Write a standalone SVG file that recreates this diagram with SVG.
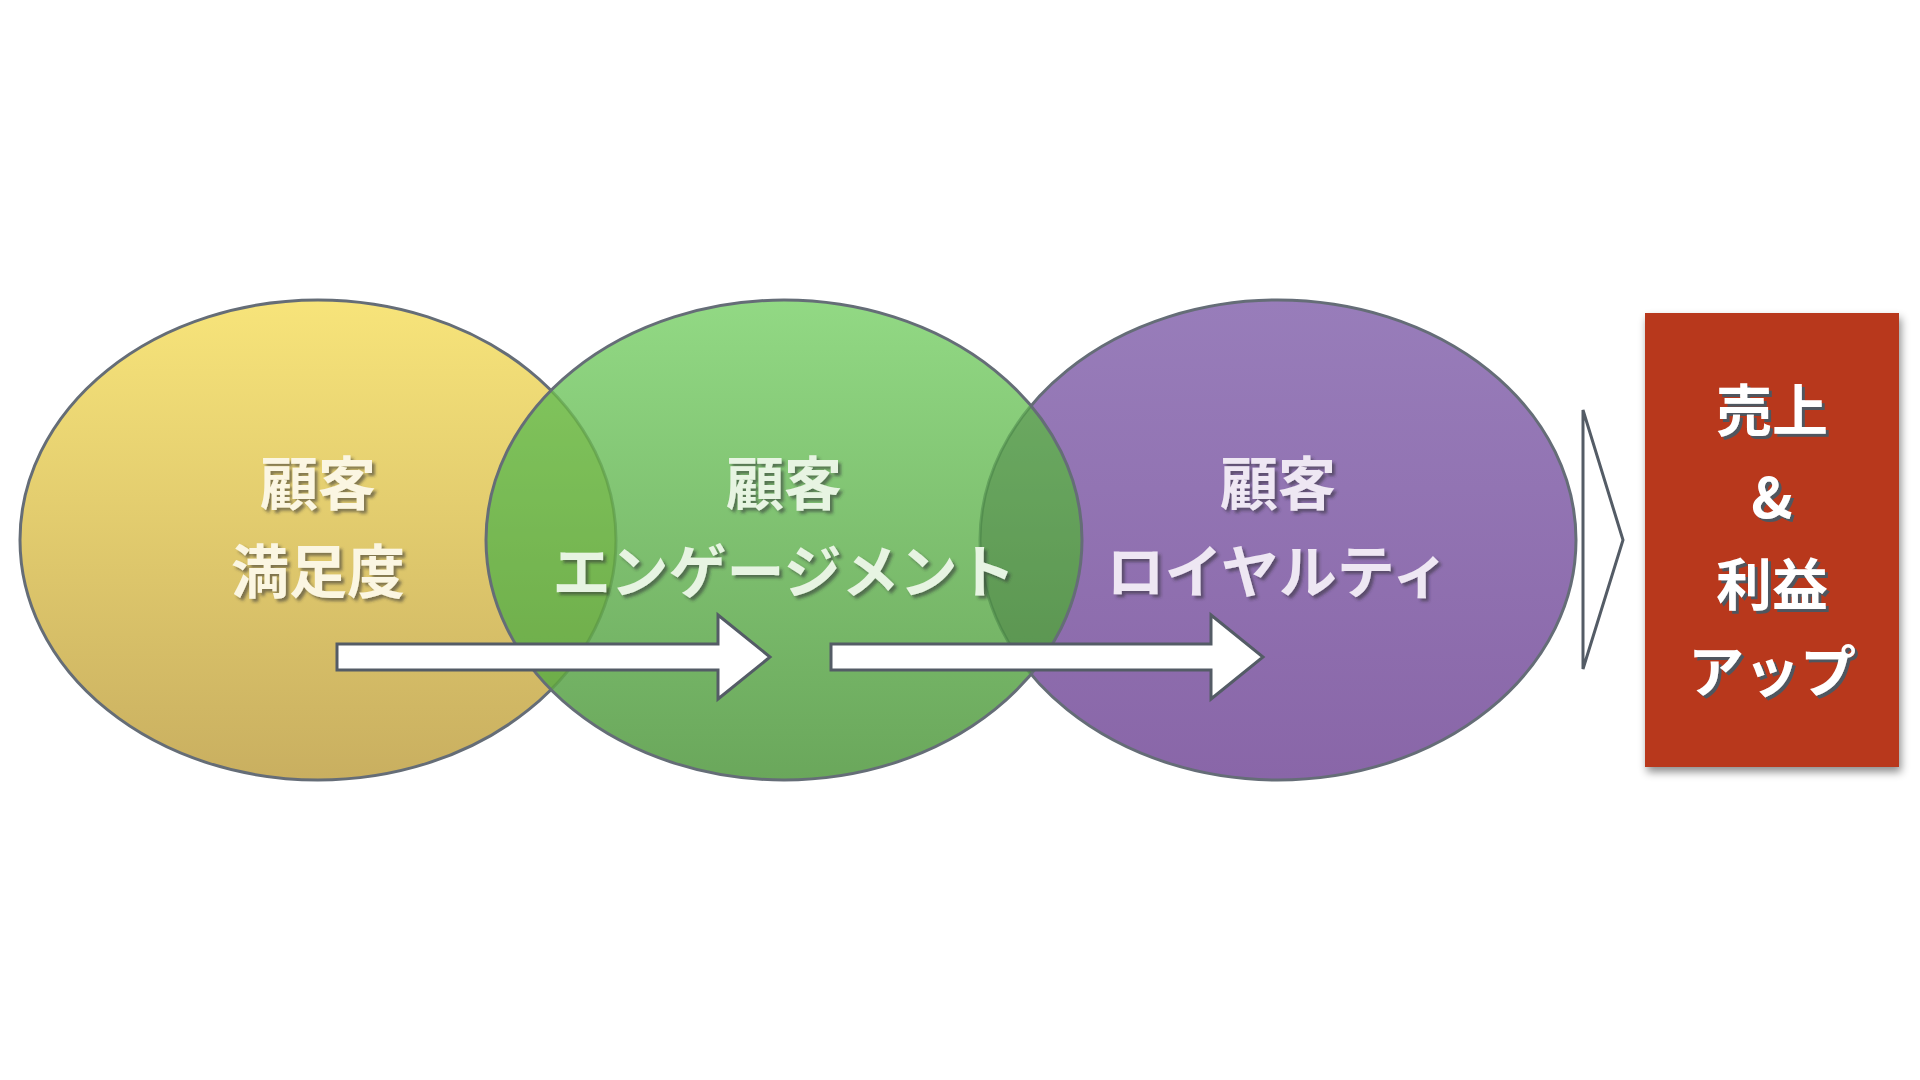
<svg xmlns="http://www.w3.org/2000/svg" width="1920" height="1080" viewBox="0 0 1920 1080">
  <style>
    .edge { fill: none; stroke: #656d77; stroke-width: 3; }
    .lbl { font-family: "Noto Sans CJK JP", "Noto Sans", sans-serif; font-weight: 700; font-size: 58px; text-anchor: middle; }
    .big { font-family: "Noto Sans CJK JP", "Noto Sans", sans-serif; font-weight: 700; font-size: 56px; text-anchor: middle; fill: #ffffff; }
    .arrow { fill: #ffffff; stroke: #545c66; stroke-width: 3; stroke-linejoin: miter; }
  </style>
  <defs>
    <linearGradient id="gY" x1="0" y1="0" x2="0" y2="1">
      <stop offset="0" stop-color="#f7e47a"/>
      <stop offset="1" stop-color="#c9af60"/>
    </linearGradient>
    <linearGradient id="gG" x1="0" y1="0" x2="0" y2="1">
      <stop offset="0" stop-color="#92d984"/>
      <stop offset="1" stop-color="#6aa75b"/>
    </linearGradient>
    <linearGradient id="gP" x1="0" y1="0" x2="0" y2="1">
      <stop offset="0" stop-color="#987dba"/>
      <stop offset="1" stop-color="#8966a8"/>
    </linearGradient>
    <clipPath id="clipG">
      <ellipse cx="784" cy="540" rx="298" ry="240"/>
    </clipPath>
    <filter id="softShadow" x="-10%" y="-20%" width="130%" height="150%">
      <feDropShadow dx="3" dy="3" stdDeviation="1.6" flood-color="#2f3338" flood-opacity="0.55"/>
    </filter>
    <filter id="hardShadow" x="-10%" y="-20%" width="130%" height="150%">
      <feDropShadow dx="3" dy="3" stdDeviation="0.4" flood-color="#50565e" flood-opacity="1"/>
    </filter>
    <filter id="boxShadow" x="-10%" y="-10%" width="125%" height="125%">
      <feDropShadow dx="2" dy="5" stdDeviation="4" flood-color="#000000" flood-opacity="0.45"/>
    </filter>
  </defs>

  <g id="node-satisfaction">
    <ellipse cx="318" cy="540" rx="298" ry="240" fill="url(#gY)"/>
    <ellipse class="edge" cx="318" cy="540" rx="298" ry="240"/>
  </g>
  <g id="node-loyalty">
    <ellipse cx="1278" cy="540" rx="298" ry="240" fill="url(#gP)"/>
    <ellipse class="edge" cx="1278" cy="540" rx="298" ry="240"/>
  </g>
  <g id="node-engagement">
    <ellipse cx="784" cy="540" rx="298" ry="240" fill="url(#gG)"/>
    <g clip-path="url(#clipG)">
      <ellipse cx="318" cy="540" rx="298" ry="240" fill="#67a70f" fill-opacity="0.3" stroke="#4f8a3e" stroke-opacity="0.45" stroke-width="3"/>
      <ellipse cx="1278" cy="540" rx="298" ry="240" fill="#245425" fill-opacity="0.3" stroke="#3f7840" stroke-opacity="0.45" stroke-width="3"/>
    </g>
    <ellipse class="edge" cx="784" cy="540" rx="298" ry="240"/>
  </g>

  <g id="connectors">
    <polygon class="arrow" points="337,644 718,644 718,615 770,657 718,699 718,670 337,670"/>
    <polygon class="arrow" points="831,644 1211,644 1211,615 1263,657 1211,699 1211,670 831,670"/>
    <polygon class="arrow" points="1583,410 1623,540 1583,669"/>
  </g>

  <g id="labels" filter="url(#softShadow)">
    <text class="lbl" x="318" y="505" fill="#fbf6e2">顧客</text>
    <text class="lbl" x="318" y="593" fill="#fbf6e2">満足度</text>
    <text class="lbl" x="784" y="505" fill="#e7f4e2">顧客</text>
    <text class="lbl" x="784" y="593" fill="#e7f4e2">エンゲージメント</text>
    <text class="lbl" x="1278" y="505" fill="#eee7f3">顧客</text>
    <text class="lbl" x="1278" y="593" fill="#eee7f3">ロイヤルティ</text>
  </g>

  <g id="node-result">
    <rect x="1645" y="313" width="254" height="454" fill="#b8381f" filter="url(#boxShadow)"/>
    <g filter="url(#hardShadow)">
      <text class="big" x="1772" y="431">売上</text>
      <text class="big" x="1772" y="518">&amp;</text>
      <text class="big" x="1772" y="605">利益</text>
      <text class="big" x="1772" y="692">アップ</text>
    </g>
  </g>
</svg>
